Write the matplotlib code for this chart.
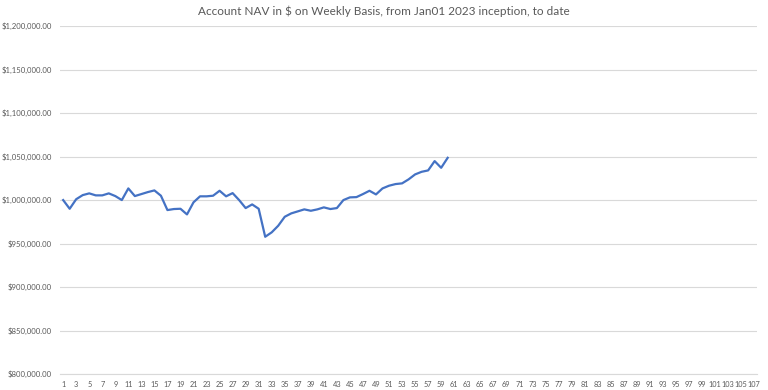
import matplotlib.pyplot as plt
from matplotlib.ticker import FuncFormatter

# weekly NAV values (week 1..60)
weeks = list(range(1, 61))
nav = [1000000, 990000, 1001000, 1005700, 1007700, 1005400, 1005400, 1007700, 1004600, 1000000,
       1013400, 1004600, 1006900, 1009200, 1011100, 1005000, 988500, 989700, 990000, 983500,
       997400, 1004300, 1004300, 1005000, 1010700, 1004300, 1008000, 1000000, 990800, 995000,
       990000, 957800, 962900, 970500, 980800, 984700, 987000, 989300, 987700, 989300,
       991600, 989700, 990800, 1000000, 1003100, 1003400, 1006900, 1010700, 1006500, 1013400,
       1016500, 1018400, 1019200, 1023800, 1029500, 1032500, 1034100, 1044800, 1037100, 1048600]
n_categories = 107
title = 'Account NAV in $ on Weekly Basis, from Jan01 2023 inception, to date'

plt.rcParams['font.family'] = ['Lato', 'DejaVu Sans']

fig = plt.figure(figsize=(7.68, 3.9), dpi=100)
ax = fig.add_axes([0.078, 0.041, 0.908, 0.892])

ax.plot(weeks, nav, color='#4472C4', linewidth=1.6, solid_joinstyle='round')

ax.set_xlim(0.5, n_categories + 0.5)
ax.set_ylim(800000, 1200000)
ax.set_yticks(range(800000, 1200001, 50000))
ax.set_xticks(range(1, n_categories + 1, 2))
ax.yaxis.set_major_formatter(FuncFormatter(lambda v, p: '${:,.2f}'.format(v)))

ax.grid(axis='y', color='#D9D9D9', linewidth=0.8)
ax.set_axisbelow(True)
for s in ['top', 'right', 'left']:
    ax.spines[s].set_visible(False)
ax.spines['bottom'].set_color('#D9D9D9')
ax.spines['bottom'].set_linewidth(0.8)
ax.tick_params(axis='both', length=0, colors='#595959')
ax.tick_params(axis='x', labelsize=5.3, pad=5)
ax.tick_params(axis='y', labelsize=5.6, pad=6)

fig.text(0.5, 0.972, title, ha='center', va='center', fontsize=8.5, color='#595959')

fig.savefig('out.png', dpi=100)
